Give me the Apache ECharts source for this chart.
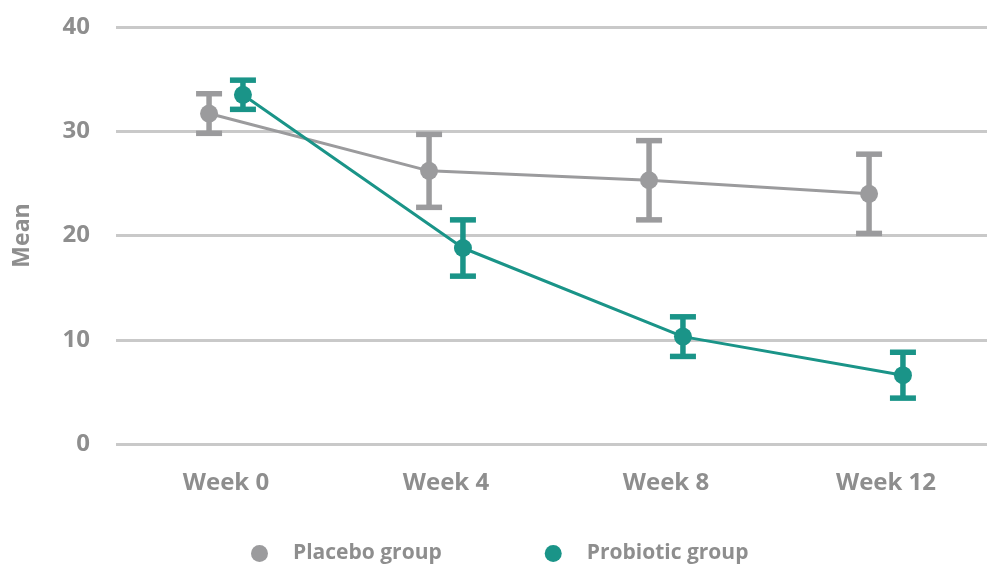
<!DOCTYPE html>
<html>
<head>
<meta charset="utf-8">
<script src="https://cdn.jsdelivr.net/npm/echarts@6/dist/echarts.min.js"></script>
<style>
  html, body { margin: 0; padding: 0; background: #fff; }
  #chart { width: 987px; height: 567px; }
</style>
</head>
<body>
<div id="chart"></div>
<script>
// Time points
const weeks = ['Week 0', 'Week 4', 'Week 8', 'Week 12'];

// Group means and error-bar half widths
const placeboMean = [31.7, 26.2, 25.3, 24.0];
const placeboErr  = [1.9, 3.5, 3.8, 3.8];
const probioticMean = [33.5, 18.8, 10.3, 6.6];
const probioticErr  = [1.4, 2.7, 1.9, 2.2];

// Y axis ticks
const yTicks = [0, 10, 20, 30, 40];

const GRAY = '#9b9b9d';
const TEAL = '#1a9488';
const LABEL = '#8e8e8e';
const DODGE = 0.077; // horizontal shift of each group within a category

function points(means, shift) {
  return means.map((m, i) => [i + shift, m]);
}
function bars(means, errs, shift) {
  return means.map((m, i) => [i + shift, m - errs[i], m + errs[i]]);
}

function errorBar(color) {
  return function (params, api) {
    const x = api.value(0);
    const lo = api.coord([x, api.value(1)]);
    const hi = api.coord([x, api.value(2)]);
    const half = 13;
    const style = { stroke: color, lineWidth: 5.5 };
    return {
      type: 'group',
      children: [
        { type: 'line', shape: { x1: lo[0], y1: lo[1], x2: hi[0], y2: hi[1] }, style },
        { type: 'line', shape: { x1: hi[0] - half, y1: hi[1], x2: hi[0] + half, y2: hi[1] }, style },
        { type: 'line', shape: { x1: lo[0] - half, y1: lo[1], x2: lo[0] + half, y2: lo[1] }, style }
      ]
    };
  };
}

const chart = echarts.init(document.getElementById('chart'), null, { renderer: 'canvas' });

chart.setOption({
  animation: false,
  backgroundColor: '#ffffff',
  textStyle: { fontFamily: 'Open Sans' },
  grid: { left: 116, top: 27, width: 880, height: 417, containLabel: false, outerBoundsMode: 'none' },
  legend: {
    bottom: -2,
    left: 246,
    icon: 'circle',
    itemWidth: 17,
    itemHeight: 17,
    itemGap: 103,
    data: ['Placebo group', 'Probiotic group'],
    textStyle: { color: LABEL, fontSize: 21, fontWeight: 'bold', fontFamily: 'Open Sans', padding: [0, 0, 0, 20] }
  },
  xAxis: [
    {
      type: 'category',
      data: weeks,
      boundaryGap: true,
      axisLine: { show: false },
      axisTick: { show: false },
      axisLabel: { color: LABEL, fontSize: 24, fontWeight: 'bold', margin: 27, fontFamily: 'Open Sans' }
    },
    {
      type: 'value',
      min: -0.5,
      max: weeks.length - 0.5,
      show: false
    }
  ],
  yAxis: {
    type: 'value',
    min: yTicks[0],
    max: yTicks[yTicks.length - 1],
    interval: 10,
    name: 'Mean',
    nameLocation: 'middle',
    nameGap: 82,
    nameTextStyle: { color: LABEL, fontSize: 23, fontWeight: 'bold', fontFamily: 'Open Sans' },
    axisLine: { show: false },
    axisTick: { show: false },
    axisLabel: { color: LABEL, fontSize: 24, fontWeight: 'bold', margin: 26, fontFamily: 'Open Sans' },
    splitLine: { lineStyle: { color: '#c9c9c9', width: 3 } }
  },
  series: [
    {
      type: 'custom',
      name: 'Placebo group',
      xAxisIndex: 1,
      renderItem: errorBar(GRAY),
      data: bars(placeboMean, placeboErr, -DODGE),
      itemStyle: { color: GRAY },
      z: 2
    },
    {
      type: 'custom',
      name: 'Probiotic group',
      xAxisIndex: 1,
      renderItem: errorBar(TEAL),
      data: bars(probioticMean, probioticErr, DODGE),
      itemStyle: { color: TEAL },
      z: 2
    },
    {
      type: 'line',
      name: 'Placebo group',
      xAxisIndex: 1,
      data: points(placeboMean, -DODGE),
      symbol: 'circle',
      symbolSize: 18,
      itemStyle: { color: GRAY },
      lineStyle: { color: GRAY, width: 3 },
      z: 3
    },
    {
      type: 'line',
      name: 'Probiotic group',
      xAxisIndex: 1,
      data: points(probioticMean, DODGE),
      symbol: 'circle',
      symbolSize: 18,
      itemStyle: { color: TEAL },
      lineStyle: { color: TEAL, width: 3 },
      z: 4
    }
  ]
});
</script>
</body>
</html>
